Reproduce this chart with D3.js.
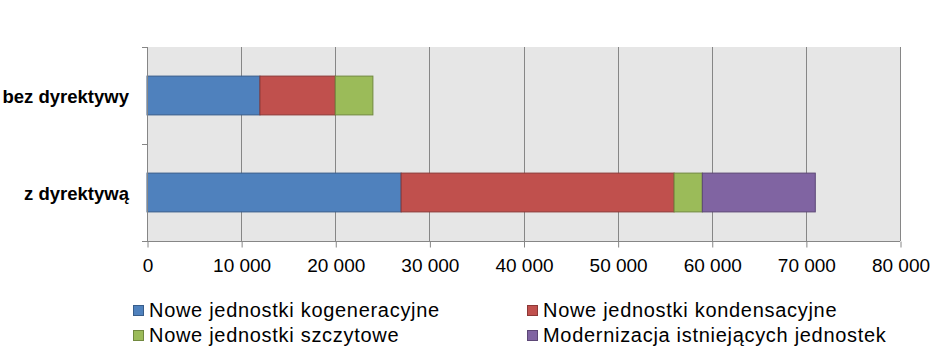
<!DOCTYPE html>
<html>
<head>
<meta charset="utf-8">
<script src="https://cdn.jsdelivr.net/npm/d3@7"></script>
<style>
  body { margin: 0; background: #fff; }
  text { font-family: "Liberation Sans", Arial, sans-serif; fill: #000; }
</style>
</head>
<body>
<div id="chart"></div>
<script>
// data
let categories = ['bez dyrektywy', 'z dyrektywą'];
let seriesNames = ['Nowe jednostki kogeneracyjne', 'Nowe jednostki kondensacyjne', 'Nowe jednostki szczytowe', 'Modernizacja istniejących jednostek'];
let kogeneracyjne = [12000, 27000];
let kondensacyjne = [8000, 29000];
let szczytowe = [4000, 3000];
let modernizacja = [0, 12000];
let xTicks = [0, 10000, 20000, 30000, 40000, 50000, 60000, 70000, 80000];

let fills = ['#4F81BD', '#C0504D', '#9BBB59', '#8064A2'];
let strokes = ['#385D8A', '#8C3836', '#71893F', '#5C4776'];

let width = 944, height = 364;
let plot = { left: 147, right: 900, top: 47, bottom: 241 };

let rows = categories.map((c, i) => ({
  cat: c,
  s0: kogeneracyjne[i], s1: kondensacyjne[i], s2: szczytowe[i], s3: modernizacja[i]
}));
let stack = d3.stack().keys(['s0', 's1', 's2', 's3'])(rows);

let xScale = d3.scaleLinear().domain([0, 80000]).range([plot.left, plot.right]);
let yScale = d3.scaleBand().domain(categories)
  .range([plot.top, plot.bottom])
  .paddingInner(0.6).paddingOuter(0.3);

let svg = d3.select('#chart').append('svg')
  .attr('width', width)
  .attr('height', height)
  .style('display', 'block');

svg.append('rect')
  .attr('x', plot.left).attr('y', plot.top)
  .attr('width', plot.right - plot.left).attr('height', plot.bottom - plot.top)
  .attr('fill', '#E6E6E6');

// vertical gridlines
svg.selectAll('.grid')
  .data(xTicks.slice(1))
  .enter().append('line')
  .attr('class', 'grid')
  .attr('x1', d => Math.round(xScale(d)) + 0.5).attr('x2', d => Math.round(xScale(d)) + 0.5)
  .attr('y1', plot.top).attr('y2', plot.bottom)
  .attr('stroke', '#868686');

// bars
svg.selectAll('.series')
  .data(stack)
  .enter().append('g')
  .attr('class', 'series')
  .attr('fill', (d, i) => fills[i])
  .attr('stroke', (d, i) => strokes[i])
  .selectAll('rect')
  .data(d => d.filter(p => p[1] - p[0] > 0))
  .enter().append('rect')
  .attr('x', d => xScale(d[0]))
  .attr('y', d => yScale(d.data.cat))
  .attr('width', d => xScale(d[1]) - xScale(d[0]))
  .attr('height', yScale.bandwidth());

// x axis
let xAxis = d3.axisBottom(xScale)
  .tickValues(xTicks)
  .tickSize(6)
  .tickPadding(11)
  .tickFormat(d => d3.format(',')(d).replace(/,/g, ' '));

let gx = svg.append('g')
  .attr('transform', `translate(0.5, ${plot.bottom + 0.5})`)
  .call(xAxis);
gx.select('.domain').attr('stroke', '#868686').attr('d', `M${plot.left - 0.5},0H${plot.right - 0.5}`);
gx.selectAll('.tick line').attr('stroke', '#868686');
gx.selectAll('.tick text')
  .style('font-size', '19px')
  .attr('fill', '#000');

// y axis: ticks at the band edges
let step = yScale.step();
let edges = categories.map(c => yScale(c) - step * yScale.paddingInner() / 2);
edges.push(plot.bottom);

svg.append('line')
  .attr('x1', plot.left + 0.5).attr('x2', plot.left + 0.5)
  .attr('y1', plot.top).attr('y2', plot.bottom)
  .attr('stroke', '#868686');
svg.selectAll('.ytick')
  .data(edges)
  .enter().append('line')
  .attr('class', 'ytick')
  .attr('x1', plot.left - 5).attr('x2', plot.left + 0.5)
  .attr('y1', d => Math.round(d) + 0.5).attr('y2', d => Math.round(d) + 0.5)
  .attr('stroke', '#868686');

svg.selectAll('.ylabel')
  .data(categories)
  .enter().append('text')
  .attr('class', 'ylabel')
  .attr('x', 129)
  .attr('y', d => yScale(d) + yScale.bandwidth() / 2 + 7)
  .attr('text-anchor', 'end')
  .style('font-size', '18.5px')
  .style('font-weight', 'bold')
  .text(d => d);

// legend
let legendPos = [[133, 317], [527, 317], [133, 342], [527, 342]];
let legend = svg.selectAll('.legend')
  .data(seriesNames)
  .enter().append('g')
  .attr('class', 'legend')
  .attr('transform', (d, i) => `translate(${legendPos[i][0]}, ${legendPos[i][1]})`);
legend.append('rect')
  .attr('x', 0.5).attr('y', -11.5)
  .attr('width', 10).attr('height', 10)
  .attr('fill', (d, i) => fills[i])
  .attr('stroke', (d, i) => strokes[i]);
legend.append('text')
  .attr('x', 16)
  .attr('y', 0)
  .style('font-size', '20px')
  .style('letter-spacing', '0.7px')
  .text(d => d);
</script>
</body>
</html>
